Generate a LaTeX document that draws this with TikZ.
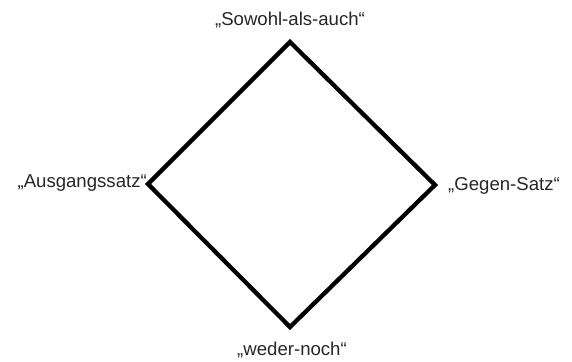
\documentclass[tikz,border=0pt]{standalone}
\usepackage{fontspec}
\setmainfont{Liberation Sans}
\newcommand{\lblsize}{\fontsize{18.6pt}{22pt}\selectfont}
\begin{document}
\begin{tikzpicture}[x=1pt,y=-1pt,
  lbl/.style={font={\lblsize}, text=black!85, inner sep=0pt},
  edge/.style={line width=4.3pt, line join=miter}]
\useasboundingbox (0,0) rectangle (572,361);
\coordinate (t) at (290,42);
\coordinate (l) at (148,184);
\coordinate (r) at (435,185);
\coordinate (b) at (290,327);
\draw[edge] (t) -- (r) -- (b) -- (l) -- cycle;
\node[lbl] (nt) at (290,20) {„Sowohl-als-auch“};
\node[lbl, anchor=east] (nl) at (147,183) {„Ausgangssatz“};
\node[lbl, anchor=west] (nr) at (448,186) {„Gegen-Satz“};
\node[lbl] (nb) at (292,350) {„weder-noch“};
\end{tikzpicture}
\end{document}
